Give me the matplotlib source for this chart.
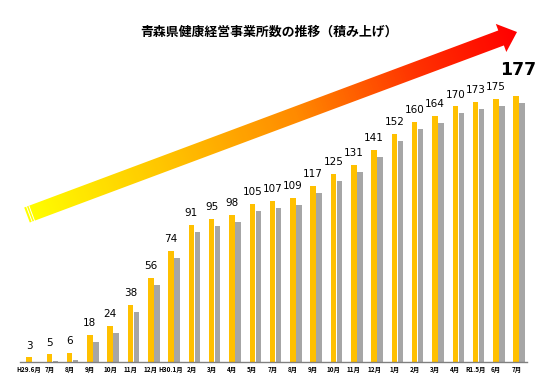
import numpy as np
import matplotlib.pyplot as plt
import matplotlib.transforms as mtransforms
from matplotlib.colors import LinearSegmentedColormap
from matplotlib.patches import Polygon

plt.rcParams['font.family'] = ['Noto Sans CJK JP', 'DejaVu Sans']

months = ["H29.6月", "7月", "8月", "9月", "10月", "11月", "12月", "H30.1月", "2月", "3月",
          "4月", "5月", "7月", "8月", "9月", "10月", "11月", "12月", "1月", "2月",
          "3月", "4月", "R1.5月", "6月", "7月"]
counts = [3, 5, 6, 18, 24, 38, 56, 74, 91, 95, 98, 105, 107, 109, 117, 125, 131, 141,
          152, 160, 164, 170, 173, 175, 177]
title = "青森県健康経営事業所数の推移（積み上げ）"

W, H = 541, 383
fig = plt.figure(figsize=(W / 100, H / 100), dpi=100)

# background arrow layer, pixel coordinates (y down)
bg = fig.add_axes([0, 0, 1, 1], zorder=0)
bg.set_xlim(0, W)
bg.set_ylim(H, 0)
bg.axis("off")

tail = np.array([27.0, 215.0])
tip = np.array([517.0, 32.0])
d = tip - tail
length = np.hypot(*d)
u = d / length
n = np.array([-u[1], u[0]])
w, hw, hl = 8, 15, 17
base = tip - hl * u
pts = [tail - w * n, base - w * n, base - hw * n, tip, base + hw * n, base + w * n, tail + w * n]
arrow = Polygon(pts, closed=True, facecolor="none", edgecolor="none")
bg.add_patch(arrow)

gx, gy = np.meshgrid(np.arange(W), np.arange(H))
proj = ((gx - tail[0]) * u[0] + (gy - tail[1]) * u[1]) / length
cmap = LinearSegmentedColormap.from_list(
    "arr", [(0, "#ffff00"), (0.3, "#ffc000"), (0.55, "#ff8a00"), (0.8, "#ff3000"), (1, "#ff0000")])
im = bg.imshow(proj, cmap=cmap, vmin=0, vmax=1, extent=(0, W, H, 0), aspect="auto")
im.set_clip_path(arrow)

for s in (2.5, 5.0):
    p = tail + s * u
    bg.plot([p[0] - w * n[0], p[0] + w * n[0]], [p[1] - w * n[1], p[1] + w * n[1]],
            color="white", lw=0.7)

# bar chart
ax = fig.add_axes([20 / W, 21 / H, 507 / W, 332 / H], zorder=1)
ax.patch.set_alpha(0)
x = np.arange(len(counts))
shadow = ax.transData + mtransforms.ScaledTranslation(0.06, -0.07, fig.dpi_scale_trans)
ax.bar(x, counts, width=0.27, color="#a6a6a6", transform=shadow, zorder=1)
ax.bar(x, counts, width=0.27, color="#ffc000", zorder=2)

ax.set_xlim(-0.443, 24.53)
ax.set_ylim(0, 332 / 1.503)

for i, v in enumerate(counts):
    if i == len(counts) - 1:
        ax.annotate(str(v), (i, v), xytext=(1, 12), textcoords="offset points",
                    ha="center", va="bottom", fontsize=12.5, fontweight="bold",
                    family="DejaVu Sans")
    else:
        ax.annotate(str(v), (i, v), xytext=(0, 5), textcoords="offset points",
                    ha="center", va="bottom", fontsize=7.5, family="DejaVu Sans")

ax.set_xticks(x)
ax.set_xticklabels(months, fontsize=4.6, fontweight="bold")
ax.tick_params(axis="x", length=0, pad=3)
ax.set_yticks([])
for side in ("left", "right", "top"):
    ax.spines[side].set_visible(False)
ax.spines["bottom"].set_color("#808080")
ax.spines["bottom"].set_linewidth(1)

fig.text(269 / W, 1 - 32 / H, title, ha="center", va="center", fontsize=9.3,
         fontweight="bold")

fig.savefig("out.png", dpi=100)
